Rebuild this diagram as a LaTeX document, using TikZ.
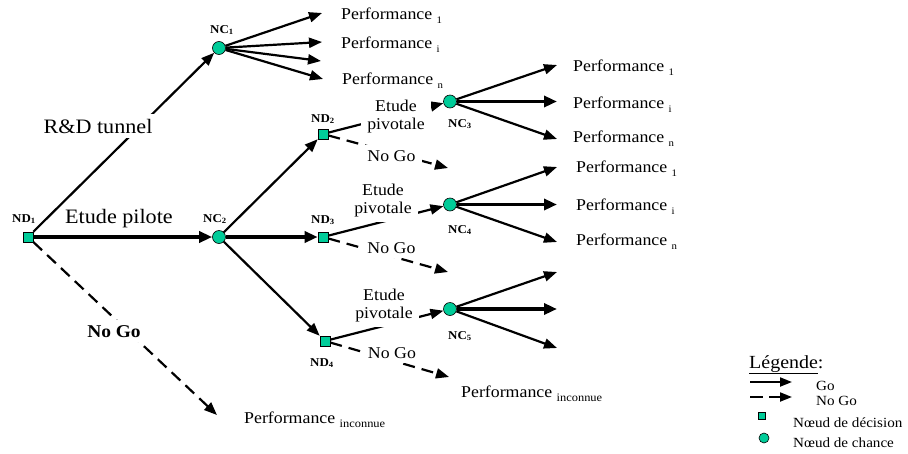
\documentclass[tikz,border=0pt]{standalone}
\usepackage{fontspec}
\setmainfont{Liberation Serif}[FakeStretch=1.08]
\usetikzlibrary{arrows.meta}
\definecolor{nodegreen}{RGB}{0,204,153}
\newcommand\fsz[1]{\fontsize{#1}{#1}\selectfont}
\newcommand\perfsub[1]{\raisebox{-4pt}{\fsz{10}#1}}
\newcommand\inconsub{\raisebox{-4pt}{\fsz{11.5}inconnue}}
\begin{document}
\begin{tikzpicture}[x=1pt,y=-1pt,
  dnode/.style={draw=black, fill=nodegreen, minimum size=10pt, inner sep=0pt, line width=0.6pt},
  cnode/.style={circle, draw=black, fill=nodegreen, minimum size=13pt, inner sep=0pt, line width=0.6pt},
  go/.style={line width=2.2pt, -{Triangle[length=13pt,width=10pt]}},
  gothick/.style={line width=3.4pt, -{Triangle[length=13pt,width=11pt]}},
  nogo/.style={line width=2.2pt, dash pattern=on 12pt off 7pt, -{Triangle[length=13pt,width=10pt]}},
  lbl/.style={anchor=base west, inner sep=0pt, font=\fsz{16.5}},
  cover/.style={fill=white, inner xsep=6pt, inner ysep=5pt, anchor=base},
  nlabel/.style={anchor=base west, inner sep=0pt, font=\bfseries\fsz{12}},
  legtext/.style={anchor=base west, inner sep=0pt, font=\fsz{14}},
]
\useasboundingbox (0,0) rectangle (908,453);
% decision and chance nodes
\node[dnode] (ND1) at (28,237) {};
\node[cnode] (NC1) at (219,48) {};
\node[cnode] (NC2) at (219,237) {};
\node[dnode] (ND2) at (323,134) {};
\node[dnode] (ND3) at (323,237) {};
\node[dnode] (ND4) at (325,341) {};
\node[cnode] (NC3) at (450,101.5) {};
\node[cnode] (NC4) at (450,204.5) {};
\node[cnode] (NC5) at (450,309) {};
% end points
\coordinate (a1) at (322,13);
\coordinate (a2) at (322,42);
\coordinate (a3) at (321,61);
\coordinate (a4) at (323,79);
\coordinate (b1) at (557,65);
\coordinate (b2) at (557,101.5);
\coordinate (b3) at (557,139);
\coordinate (c1) at (557,167);
\coordinate (c2) at (557,204.5);
\coordinate (c3) at (557,242);
\coordinate (d1) at (557,272);
\coordinate (d2) at (557,309);
\coordinate (d3) at (557,348);
\coordinate (e0) at (217,415);
\coordinate (e1) at (448,168);
\coordinate (e2) at (448,272);
\coordinate (e3) at (449,377);
% connectors
\draw[go] (ND1) -- (NC1);
\draw[gothick] (ND1) -- (NC2);
\draw[nogo] (ND1) -- (e0);
\draw[go] (NC1) -- (a1);
\draw[go] (NC1) -- (a2);
\draw[go] (NC1) -- (a3);
\draw[go] (NC1) -- (a4);
\draw[go] (NC2) -- (ND2);
\draw[gothick] (NC2) -- (ND3);
\draw[go] (NC2) -- (ND4);
\draw[go] (ND2) -- (NC3);
\draw[go] (ND3) -- (NC4);
\draw[go] (ND4) -- (NC5);
\draw[nogo] (ND2) -- (e1);
\draw[nogo] (ND3) -- (e2);
\draw[nogo] (ND4) -- (e3);
\draw[go] (NC3) -- (b1);
\draw[gothick] (NC3) -- (b2);
\draw[go] (NC3) -- (b3);
\draw[go] (NC4) -- (c1);
\draw[gothick] (NC4) -- (c2);
\draw[go] (NC4) -- (c3);
\draw[go] (NC5) -- (d1);
\draw[gothick] (NC5) -- (d2);
\draw[go] (NC5) -- (d3);
% branch texts
\node[cover, font=\fsz{20.5}] (tRD) at (98,133) {R\&D tunnel};
\node[anchor=base, inner sep=0pt, font=\fsz{20.5}] (tEP) at (119,223) {Etude pilote};
\node[cover, font=\bfseries\fsz{18}] (tNG) at (114,337) {No Go};
\node[cover, font=\fontsize{16.5}{18}\selectfont, align=center] (tEP2) at (396,129) {Etude\\pivotale};
\node[cover, font=\fontsize{16.5}{18}\selectfont, align=center] (tEP3) at (383,213) {Etude\\pivotale};
\node[cover, font=\fontsize{16.5}{18}\selectfont, align=center] (tEP4) at (384,318) {Etude\\pivotale};
\node[cover, font=\fsz{16.5}] (tNG2) at (391.5,161) {No Go};
\node[cover, font=\fsz{16.5}] (tNG3) at (391.5,253) {No Go};
\node[cover, font=\fsz{16.5}] (tNG4) at (392,358) {No Go};
% performance labels
\node[lbl] (p11) at (341,19) {Performance \perfsub{1}};
\node[lbl] (p1i) at (341,48) {Performance \perfsub{i}};
\node[lbl] (p1n) at (342,84) {Performance \perfsub{n}};
\node[lbl] (p31) at (573,71) {Performance \perfsub{1}};
\node[lbl] (p3i) at (573,108) {Performance \perfsub{i}};
\node[lbl] (p3n) at (573,142) {Performance \perfsub{n}};
\node[lbl] (p41) at (576,172) {Performance \perfsub{1}};
\node[lbl] (p4i) at (576,210) {Performance \perfsub{i}};
\node[lbl] (p4n) at (576,245) {Performance \perfsub{n}};
\node[lbl] (pinc1) at (461,397) {Performance \inconsub};
\node[lbl] (pinc2) at (244,423) {Performance \inconsub};
% node labels
\node[nlabel] (lND1) at (12,222) {ND\textsubscript{1}};
\node[nlabel] (lNC1) at (210,33) {NC\textsubscript{1}};
\node[nlabel] (lNC2) at (203,222) {NC\textsubscript{2}};
\node[nlabel] (lND2) at (311,122) {ND\textsubscript{2}};
\node[nlabel] (lND3) at (311,223) {ND\textsubscript{3}};
\node[nlabel] (lND4) at (310,366) {ND\textsubscript{4}};
\node[nlabel] (lNC3) at (448,127) {NC\textsubscript{3}};
\node[nlabel] (lNC4) at (448,233) {NC\textsubscript{4}};
\node[nlabel] (lNC5) at (448,339) {NC\textsubscript{5}};
% legend
\node[anchor=base west, inner sep=0pt, font=\fsz{18.5}] (leg) at (749,368) {\underline{Légende}:};
\coordinate (g1) at (750,382);
\coordinate (g2) at (792,382);
\coordinate (h1) at (750,397);
\coordinate (h2) at (792,397);
\draw[line width=2pt, -{Triangle[length=12pt,width=9pt]}] (g1) -- (g2);
\draw[line width=2pt, dash pattern=on 13pt off 6pt, -{Triangle[length=12pt,width=9pt]}] (h1) -- (h2);
\node[legtext] (lgo) at (816,390) {Go};
\node[legtext] (lnogo) at (816,405) {No Go};
\node[dnode, minimum size=6.5pt] (lsq) at (762,416) {};
\node[cnode, minimum size=10pt] (lci) at (764,438) {};
\node[legtext] (ldec) at (793,427) {Nœud de décision};
\node[legtext] (lcha) at (793,447) {Nœud de chance};
\end{tikzpicture}
\end{document}
